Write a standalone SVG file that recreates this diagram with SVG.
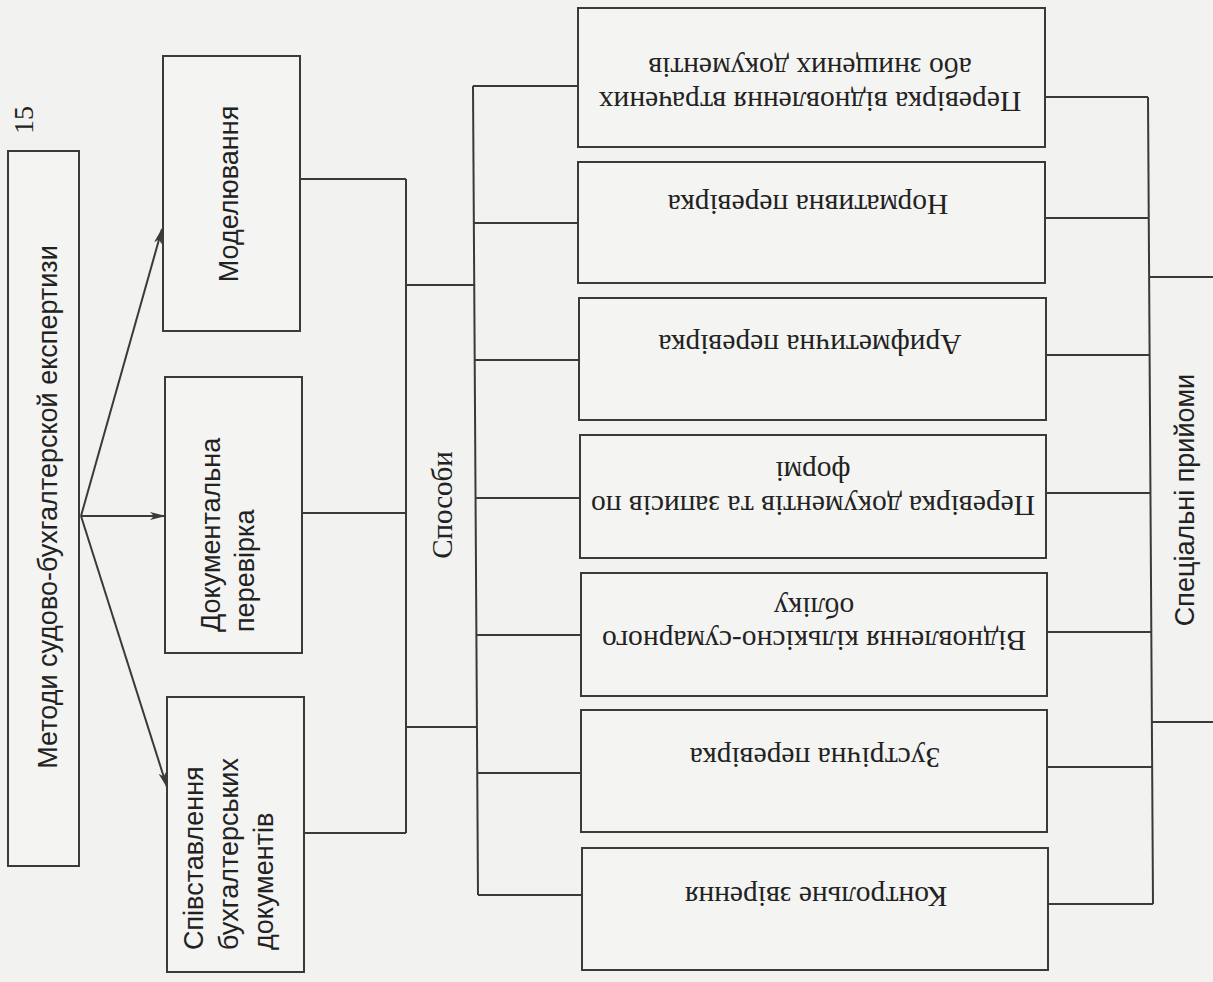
<svg xmlns="http://www.w3.org/2000/svg" width="1213" height="982" viewBox="0 0 1213 982">
<style>
.bg{fill:#f2f2f0}
.box{fill:#f4f4f2;stroke:#3a3a3a;stroke-width:2}
.ln{fill:none;stroke:#3a3a3a;stroke-width:2}
.sans{font-family:"Liberation Sans",Arial,sans-serif;font-size:27px;fill:#222}
.serif{font-family:"Liberation Serif","Times New Roman",serif;font-size:28px;fill:#222}
.rb{font-size:29.5px}
.mid{text-anchor:middle}
</style>
<defs>
<marker id="arr" viewBox="0 0 16 8" refX="15" refY="4" markerWidth="16" markerHeight="8" markerUnits="userSpaceOnUse" orient="auto">
<path d="M0,0 L16,4 L0,8 L4,4 z" fill="#3a3a3a"/>
</marker>
</defs>
<rect class="bg" x="0" y="0" width="1213" height="982"/>
<text class="serif mid" transform="translate(33,120) rotate(-90)">15</text>

<g id="connectors">
<path class="ln" d="M81,516 L162,229" marker-end="url(#arr)"/>
<path class="ln" d="M81,516 L165,516" marker-end="url(#arr)"/>
<path class="ln" d="M81,516 L167,787" marker-end="url(#arr)"/>
<path class="ln" d="M300,179 H406 M302,513 H406 M304,833 H406 M406,179 V833"/>
<path class="ln" d="M406,285 H474 M406,727 H477"/>
<path class="ln" d="M473,86 L478,895"/>
<path class="ln" d="M473,86 H578 M474,223 H578 M475,360 H579 M476,498 H580 M477,635 H581 M477,773 H581 M478,895 H582"/>
<path class="ln" d="M1148,97 L1153,904"/>
<path class="ln" d="M1045,97 H1148 M1045,218 H1149 M1046,355 H1150 M1046,493 H1151 M1047,632 H1152 M1047,767 H1152 M1048,904 H1153"/>
<path class="ln" d="M1149,277 H1213 M1152,722 H1213"/>
</g>

<g id="n-main">
<rect class="box" x="8" y="151" width="71" height="715"/>
<text class="sans mid" transform="translate(57,507) rotate(-90)">Методи судово-бухгалтерской експертизи</text>
</g>
<g id="n-model">
<rect class="box" x="163" y="56" width="137" height="275"/>
<text class="sans mid" transform="translate(238,194) rotate(-90)">Моделювання</text>
</g>
<g id="n-doc">
<rect class="box" x="165" y="377" width="137" height="276"/>
<text class="sans" transform="translate(220,632) rotate(-90)"><tspan x="0" y="0">Документальна</tspan><tspan x="0" y="34">перевірка</tspan></text>
</g>
<g id="n-spiv">
<rect class="box" x="167" y="697" width="137" height="275"/>
<text class="sans" transform="translate(203,950) rotate(-90)"><tspan x="0" y="0">Співставлення</tspan><tspan x="0" y="35">бухгалтерських</tspan><tspan x="0" y="70">документів</tspan></text>
</g>
<g id="n-sposoby">
<text class="serif mid" style="font-size:29px" transform="translate(452,505) rotate(-90)">Способи</text>
</g>
<g id="n-spec">
<text class="sans mid" transform="translate(1194,500) rotate(-90)">Спеціальні прийоми</text>
</g>

<g id="n-b1">
<rect class="box" x="578" y="8" width="467" height="139"/>
<text class="serif rb mid" transform="translate(810,92) rotate(180)"><tspan x="0" y="0">Перевірка відновлення втрачених</tspan><tspan x="0" y="34">або знищених документів</tspan></text>
</g>
<g id="n-b2">
<rect class="box" x="578" y="162" width="467" height="121"/>
<text class="serif rb mid" transform="translate(808,195) rotate(180)">Нормативна перевірка</text>
</g>
<g id="n-b3">
<rect class="box" x="579" y="298" width="467" height="122"/>
<text class="serif rb mid" transform="translate(810,335) rotate(180)">Арифметична перевірка</text>
</g>
<g id="n-b4">
<rect class="box" x="580" y="435" width="466" height="123"/>
<text class="serif rb mid" transform="translate(813,496) rotate(180)"><tspan x="0" y="0">Перевірка документів та записів по</tspan><tspan x="0" y="34">формі</tspan></text>
</g>
<g id="n-b5">
<rect class="box" x="581" y="573" width="466" height="123"/>
<text class="serif rb mid" transform="translate(814,631) rotate(180)"><tspan x="0" y="0">Відновлення кількісно-сумарного</tspan><tspan x="0" y="33">обліку</tspan></text>
</g>
<g id="n-b6">
<rect class="box" x="581" y="710" width="466" height="122"/>
<text class="serif rb mid" transform="translate(815,748) rotate(180)">Зустрічна перевірка</text>
</g>
<g id="n-b7">
<rect class="box" x="582" y="848" width="466" height="122"/>
<text class="serif rb mid" transform="translate(816,887) rotate(180)">Контрольне звірення</text>
</g>
</svg>
